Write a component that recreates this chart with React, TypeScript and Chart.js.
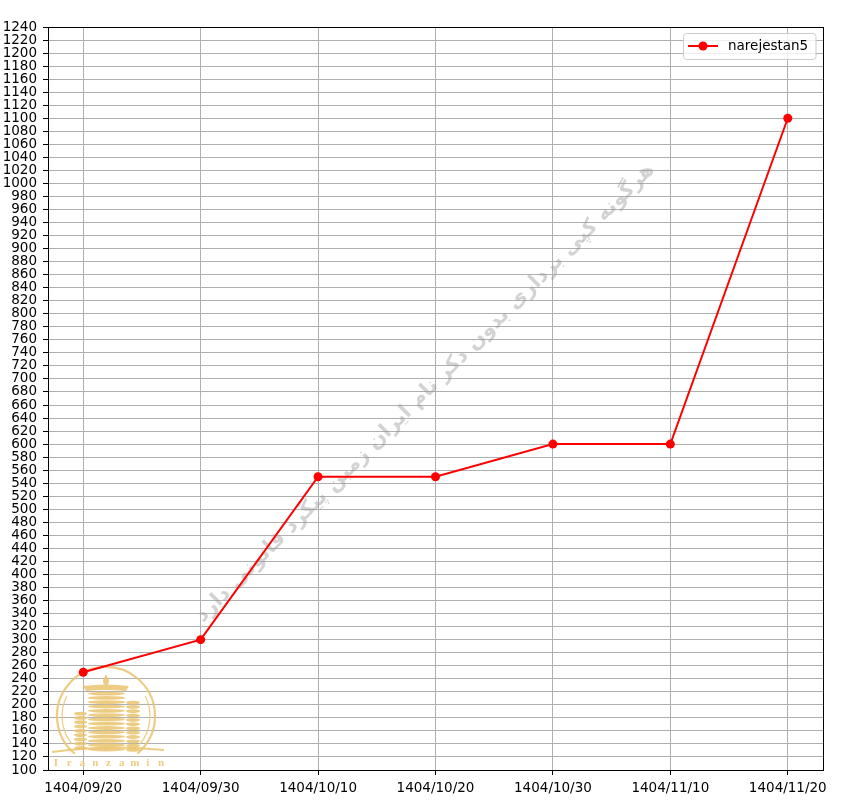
import React, { useEffect, useRef } from "react";
import { Chart, registerables } from "chart.js";

Chart.register(...registerables);

const dates = ["1404/09/20", "1404/09/30", "1404/10/10", "1404/10/20", "1404/10/30", "1404/11/10", "1404/11/20"];
const values = [250, 300, 550, 550, 600, 600, 1100];
const seriesLabel = "narejestan5";
const yMin = 100;
const yMax = 1240;
const yStep = 20;
const watermarkText = "هرگونه کپی برداری بدون ذکر نام ایران زمین پیگرد قانونی دارد";
const logoText = "Iranzamin";

const FONT = '"DejaVu Sans", sans-serif';
const RED = "#ff0000";
const GOLD = "rgba(234,196,110,0.85)";

function drawLogo(ctx: CanvasRenderingContext2D) {
  ctx.save();
  const cx = 106, cy = 716, r = 49;
  ctx.strokeStyle = GOLD;
  ctx.fillStyle = GOLD;
  ctx.lineWidth = 2.2;
  ctx.beginPath();
  ctx.arc(cx, cy, r, 0.72 * Math.PI, 0.28 * Math.PI);
  ctx.stroke();
  ctx.lineWidth = 1.2;
  ctx.beginPath();
  ctx.arc(cx, cy, r - 5, 0.78 * Math.PI, 1.15 * Math.PI);
  ctx.stroke();
  ctx.beginPath();
  ctx.arc(cx, cy, r - 5, 1.85 * Math.PI, 0.22 * Math.PI);
  ctx.stroke();
  const building = (x0: number, x1: number, y0: number, y1: number) => {
    for (let y = y0; y < y1; y += 4.3) {
      ctx.beginPath();
      ctx.ellipse((x0 + x1) / 2, y + 1.6, (x1 - x0) / 2, 1.9, 0, 0, Math.PI * 2);
      ctx.fill();
    }
  };
  building(74, 87, 712, 750);
  building(126, 140, 701, 750);
  building(88, 125, 692, 750);
  // emblem
  ctx.beginPath();
  ctx.moveTo(83, 686);
  ctx.quadraticCurveTo(106, 683, 129, 686);
  ctx.lineTo(126, 691);
  ctx.quadraticCurveTo(106, 689, 86, 691);
  ctx.closePath();
  ctx.fill();
  ctx.beginPath();
  ctx.ellipse(106, 681, 3, 4, 0, 0, Math.PI * 2);
  ctx.fill();
  ctx.fillRect(105, 675, 2, 4);
  // swoosh
  ctx.lineWidth = 2;
  ctx.beginPath();
  ctx.moveTo(52, 752);
  ctx.quadraticCurveTo(110, 744, 164, 750);
  ctx.stroke();
  // text
  ctx.font = 'bold 11px "Liberation Serif", serif';
  ctx.textAlign = "center";
  ctx.textBaseline = "middle";
  const chars = logoText.split("");
  const x0 = 56, x1 = 161;
  chars.forEach((c, i) => {
    ctx.fillText(c, x0 + ((x1 - x0) * i) / (chars.length - 1), 763);
  });
  ctx.restore();
}

const decorPlugin = {
  id: "decor",
  beforeDatasetsDraw(chart: any) {
    const ctx: CanvasRenderingContext2D = chart.ctx;
    // watermark
    ctx.save();
    ctx.translate(425, 393);
    ctx.rotate(-Math.PI / 4);
    ctx.font = `bold 20px ${FONT}`;
    const w = ctx.measureText(watermarkText).width;
    const size = Math.max(10, (20 * 640) / (w || 640));
    ctx.font = `bold ${size}px ${FONT}`;
    ctx.fillStyle = "rgba(150,150,150,0.42)";
    ctx.textAlign = "center";
    ctx.textBaseline = "middle";
    (ctx as any).direction = "rtl";
    ctx.fillText(watermarkText, 0, 0);
    ctx.restore();
    drawLogo(ctx);
  },
  afterDatasetsDraw(chart: any) {
    const ctx: CanvasRenderingContext2D = chart.ctx;
    const { left, top, right, bottom } = chart.chartArea;
    ctx.save();
    ctx.strokeStyle = "#000";
    ctx.lineWidth = 1;
    ctx.strokeRect(Math.round(left) + 0.5, Math.round(top) + 0.5, Math.round(right - left), Math.round(bottom - top));
    // legend
    const bx = 683.5, by = 33.5, bw = 132.5, bh = 26, rad = 3;
    ctx.beginPath();
    ctx.moveTo(bx + rad, by);
    ctx.lineTo(bx + bw - rad, by);
    ctx.quadraticCurveTo(bx + bw, by, bx + bw, by + rad);
    ctx.lineTo(bx + bw, by + bh - rad);
    ctx.quadraticCurveTo(bx + bw, by + bh, bx + bw - rad, by + bh);
    ctx.lineTo(bx + rad, by + bh);
    ctx.quadraticCurveTo(bx, by + bh, bx, by + bh - rad);
    ctx.lineTo(bx, by + rad);
    ctx.quadraticCurveTo(bx, by, bx + rad, by);
    ctx.closePath();
    ctx.fillStyle = "rgba(255,255,255,0.8)";
    ctx.fill();
    ctx.strokeStyle = "#cccccc";
    ctx.stroke();
    const ly = 46;
    ctx.strokeStyle = RED;
    ctx.lineWidth = 2;
    ctx.beginPath();
    ctx.moveTo(688, ly);
    ctx.lineTo(718, ly);
    ctx.stroke();
    ctx.fillStyle = RED;
    ctx.beginPath();
    ctx.arc(703, ly, 4.5, 0, Math.PI * 2);
    ctx.fill();
    ctx.fillStyle = "#000";
    ctx.font = `13.5px ${FONT}`;
    ctx.textAlign = "left";
    ctx.textBaseline = "middle";
    ctx.fillText(seriesLabel, 728, ly + 0.5);
    ctx.restore();
  },
};

export default function App() {
  const ref = useRef<HTMLCanvasElement | null>(null);
  useEffect(() => {
    document.body.style.margin = "0";
    const canvas = ref.current!;
    const yTickValues: number[] = [];
    for (let v = yMin; v <= yMax; v += yStep) yTickValues.push(v);
    const chart = new Chart(canvas, {
      type: "line",
      data: {
        datasets: [
          {
            label: seriesLabel,
            data: values.map((v, i) => ({ x: i, y: v })),
            borderColor: RED,
            backgroundColor: RED,
            borderWidth: 2,
            pointRadius: 4.5,
            pointBorderWidth: 0,
            pointBackgroundColor: RED,
            tension: 0,
          },
        ],
      },
      options: {
        animation: false,
        responsive: false,
        devicePixelRatio: 1,
        layout: { padding: { top: 27, right: 31, left: 0, bottom: 0 } },
        plugins: { legend: { display: false }, tooltip: { enabled: false } },
        scales: {
          x: {
            type: "linear",
            min: -0.3,
            max: dates.length - 1 + 0.3,
            bounds: "data",
            afterBuildTicks: (s: any) => {
              s.ticks = dates.map((_, i) => ({ value: i }));
            },
            afterFit: (s: any) => {
              s.height = 40;
            },
            ticks: {
              autoSkip: false,
              maxRotation: 0,
              padding: 5,
              color: "#000",
              font: { family: FONT, size: 13.5 },
              callback: (v: any) => dates[v] ?? "",
            },
            grid: { color: "#b0b0b0", lineWidth: 1, tickLength: 5, tickColor: "#000", drawTicks: true },
            border: { display: true, color: "#000", width: 1 },
          },
          y: {
            type: "linear",
            min: yMin,
            max: yMax,
            afterBuildTicks: (s: any) => {
              s.ticks = yTickValues.map((v) => ({ value: v }));
            },
            afterFit: (s: any) => {
              s.width = 48;
            },
            ticks: {
              autoSkip: false,
              padding: 6,
              color: "#000",
              font: { family: FONT, size: 13.5, lineHeight: 1 },
              callback: (v: any) => String(v),
            },
            grid: { color: "#b0b0b0", lineWidth: 1, tickLength: 5, tickColor: "#000", drawTicks: true },
            border: { display: true, color: "#000", width: 1 },
          },
        },
      },
      plugins: [decorPlugin],
    } as any);
    return () => chart.destroy();
  }, []);
  return (
    <div style={{ width: 854, height: 810, background: "#fff" }}>
      <canvas ref={ref} width={854} height={810} style={{ display: "block", width: 854, height: 810 }} />
    </div>
  );
}
